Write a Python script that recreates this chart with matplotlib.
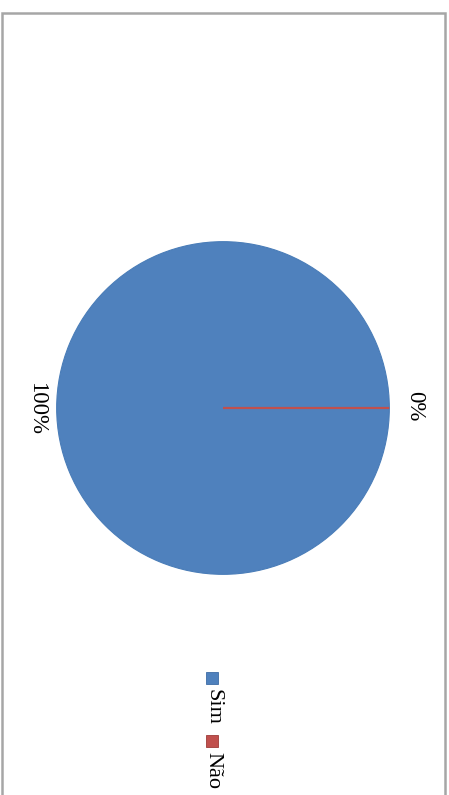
import matplotlib.pyplot as plt
from matplotlib.patches import Rectangle

# data
categories = ['Sim', 'Não']
values = [100, 0]
pct_labels = ['100%', '0%']
colors = ['#4F81BD', '#C0504D']

W, H = 449, 795
plt.rcParams['font.family'] = ['Liberation Serif', 'DejaVu Serif']

fig = plt.figure(figsize=(W / 100, H / 100), dpi=100)


def fx(px):
    return px / W


def fy(py):
    return 1 - py / H


# outer frame of the chart area (bottom edge runs off the picture)
fig.patches.append(Rectangle((fx(1.5), -0.01), fx(443.5), fy(13) + 0.01,
                             transform=fig.transFigure, fill=False,
                             edgecolor='#A6A6A6', lw=1.8))

# pie (the whole chart is rotated 90 deg clockwise)
cx, cy, r = 223, 408, 168
ax = fig.add_axes([fx(cx - r), fy(cy + r), fx(2 * r), 2 * r / H])
wedges, _ = ax.pie(values, colors=colors, startangle=0, counterclock=False,
                   radius=1)
wedges[0].set_edgecolor('#4A7DB8')
wedges[0].set_linewidth(0.8)
wedges[1].set_edgecolor(colors[1])
wedges[1].set_linewidth(1.6)
ax.set_xlim(-1.01, 1.01)
ax.set_ylim(-1.01, 1.01)
ax.set_aspect('equal')
ax.axis('off')

# data labels
fig.text(fx(37), fy(409), pct_labels[0], rotation=-90, fontsize=16.5,
         ha='center', va='center')
fig.text(fx(415), fy(406), pct_labels[1], rotation=-90, fontsize=16.5,
         ha='center', va='center')

# legend
lx = 212
sq = 12
fig.patches.append(Rectangle((fx(lx - sq / 2), fy(678 + sq / 2)), fx(sq), sq / H,
                             transform=fig.transFigure, facecolor=colors[0],
                             edgecolor='#3D6CA5', lw=0.6))
fig.text(fx(lx + 1), fy(707), categories[0], rotation=-90, fontsize=16,
         ha='center', va='center')
fig.patches.append(Rectangle((fx(lx - sq / 2), fy(741 + sq / 2)), fx(sq), sq / H,
                             transform=fig.transFigure, facecolor=colors[1],
                             edgecolor='#9E3B38', lw=0.6))
fig.text(fx(lx + 1), fy(771), categories[1], rotation=-90, fontsize=16,
         ha='center', va='center')

fig.savefig('out.png', dpi=100)
